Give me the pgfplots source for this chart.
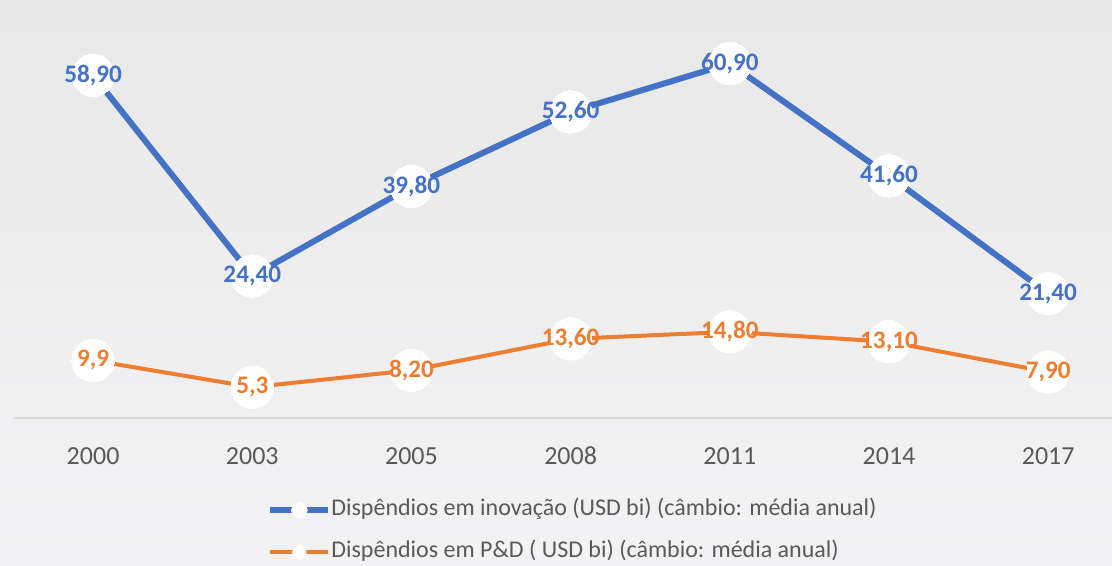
\documentclass[border=0pt]{standalone}
\usepackage{pgfplots}
\pgfplotsset{compat=1.18}
\usepackage{fontspec}
\setmainfont{Carlito}
\definecolor{cblue}{HTML}{4472C4}
\definecolor{corange}{HTML}{ED7D31}
\definecolor{ctext}{HTML}{595959}
\definecolor{caxis}{HTML}{D9D9D9}
\definecolor{bgtop}{HTML}{E8E8E8}
\definecolor{bgmid}{HTML}{E9E9E9}
\definecolor{bgbot}{HTML}{F3F3F5}
\begin{document}
\begin{tikzpicture}
\shade[top color=bgtop, middle color=bgmid, bottom color=bgbot] (0,0) rectangle (556pt,283pt);
\begin{axis}[
  at={(6.75pt,74pt)}, anchor=south west,
  scale only axis, width=549.25pt, height=206.6pt,
  xmin=-0.5, xmax=6.401, ymin=0, ymax=71,
  axis y line=none, axis x line*=bottom,
  x axis line style={caxis, line width=1pt, -},
  xtick={0,...,6},
  xticklabels={2000,2003,2005,2008,2011,2014,2017},
  major tick length=0pt, ytick=\empty,
  xticklabel style={font=\fontsize{13}{15}\selectfont, text=ctext, anchor=base, yshift=-23.3pt},
  clip=false,
  point meta=explicit symbolic,
  nodes near coords,
  every node near coord/.append style={anchor=center, font=\bfseries\fontsize{12.6}{15}\selectfont},
  legend cell align=left,
  legend image code/.code={\draw[#1] (0pt,0pt) -- (29pt,0pt); \fill[white] (14.5pt,0pt) circle (2.6pt);},
  legend style={draw=none, fill=none, at={(axis description cs:0.2307,-0.198)}, anchor=north west,
    inner sep=0pt, row sep=11pt, font=\fontsize{12}{14}\selectfont, text=ctext,
    nodes={inner sep=0pt, text height=7.5pt, text depth=2.5pt},
    /tikz/every odd column/.append style={column sep=0pt}},
]
\addplot[cblue, line width=3pt, mark=*, mark size=10.6pt, mark options={fill=white, draw=white, line width=0pt},
  every node near coord/.append style={text=cblue}]
  coordinates {(0,58.9) [58,90] (1,24.4) [24,40] (2,39.8) [39,80] (3,52.6) [52,60] (4,60.9) [60,90] (5,41.6) [41,60] (6,21.4) [21,40]};
\addlegendentry{Dispêndios em inovação (USD bi) (câmbio: média anual)}
\addplot[corange, line width=2pt, mark=*, mark size=10.6pt, mark options={fill=white, draw=white, line width=0pt},
  every node near coord/.append style={text=corange}]
  coordinates {(0,9.9) [9,9] (1,5.3) [5,3] (2,8.2) [8,20] (3,13.6) [13,60] (4,14.8) [14,80] (5,13.1) [13,10] (6,7.9) [7,90]};
\addlegendentry{Dispêndios em P\&D ( USD bi) (câmbio: média anual)}
\end{axis}
\pgfresetboundingbox
\useasboundingbox (0,0) rectangle (556pt,283pt);
\end{tikzpicture}
\end{document}
